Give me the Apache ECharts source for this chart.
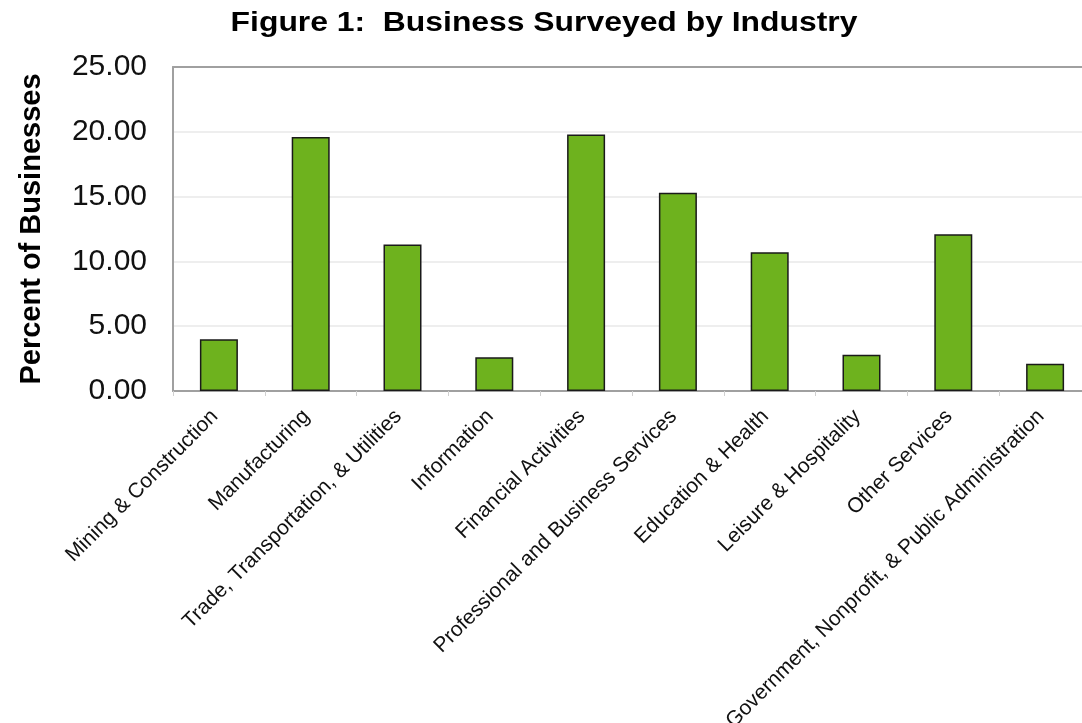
<!DOCTYPE html>
<html>
<head>
<meta charset="utf-8">
<script src="https://cdn.jsdelivr.net/npm/echarts@6/dist/echarts.min.js"></script>
<style>
  html, body { margin: 0; padding: 0; background: #ffffff; }
  #chart { width: 1082px; height: 723px; }
</style>
</head>
<body>
<div id="chart"></div>
<script>
// Industry categories and share of surveyed businesses (%)
const industries = [
  'Mining & Construction',
  'Manufacturing',
  'Trade, Transportation, & Utilities',
  'Information',
  'Financial Activities',
  'Professional and Business Services',
  'Education & Health',
  'Leisure & Hospitality',
  'Other Services',
  'Government, Nonprofit, & Public Administration'
];
const percentOfBusinesses = [4.0, 19.6, 11.3, 2.6, 19.8, 15.3, 10.7, 2.8, 12.1, 2.1];
const yTicks = { min: 0, max: 25, interval: 5 };
const chartTitle = 'Figure 1:  Business Surveyed by Industry';

const chart = echarts.init(document.getElementById('chart'), null, { renderer: 'canvas' });
const fontFamily = 'Liberation Sans, Arial, Helvetica, sans-serif';

chart.setOption({
  backgroundColor: '#ffffff',
  animation: false,
  // wide bold heading, drawn as a horizontally stretched text element
  graphic: [
    {
      type: 'text',
      x: 544,
      y: 24,
      scaleX: 1.18,
      style: {
        text: chartTitle,
        font: 'bold 27px ' + fontFamily,
        fill: '#000000',
        textAlign: 'center',
        textVerticalAlign: 'middle'
      }
    }
  ],
  // fixed plot rectangle; the last column runs past the right edge of the canvas
  grid: {
    left: 173, top: 67, width: 918, height: 324,
    containLabel: false,
    outerBoundsMode: 'none'
  },
  xAxis: [
    {
      type: 'category',
      data: industries,
      boundaryGap: true,
      axisLine: { show: true, lineStyle: { color: '#a0a0a0', width: 2 } },
      axisTick: { show: true, alignWithLabel: false, length: 5, lineStyle: { color: '#d0d0d0' } },
      axisLabel: {
        interval: 0,
        rotate: 45,
        margin: 18,
        padding: [0, 6, 0, 0],
        fontFamily,
        fontSize: 21,
        color: '#111111'
      }
    },
    {
      type: 'category',
      position: 'top',
      data: industries,
      axisLine: { show: true, lineStyle: { color: '#a0a0a0', width: 2 } },
      axisTick: { show: false },
      axisLabel: { show: false }
    }
  ],
  yAxis: {
    type: 'value',
    min: yTicks.min,
    max: yTicks.max,
    interval: yTicks.interval,
    name: 'Percent of Businesses',
    nameLocation: 'middle',
    nameGap: 127,
    nameTextStyle: { fontFamily, fontSize: 29, fontWeight: 'bold', color: '#000000' },
    axisLine: { show: true, lineStyle: { color: '#a0a0a0', width: 2 } },
    axisTick: { show: false },
    axisLabel: {
      fontFamily,
      fontSize: 30,
      color: '#111111',
      margin: 26,
      formatter: v => v.toFixed(2)
    },
    splitLine: { show: true, lineStyle: { color: '#e8e8e8', width: 1.5 } }
  },
  series: [
    {
      type: 'bar',
      data: percentOfBusinesses,
      barWidth: 38,
      itemStyle: { color: '#6eb21e', borderColor: '#1a1a1a', borderWidth: 1.5 }
    }
  ]
});
</script>
</body>
</html>
